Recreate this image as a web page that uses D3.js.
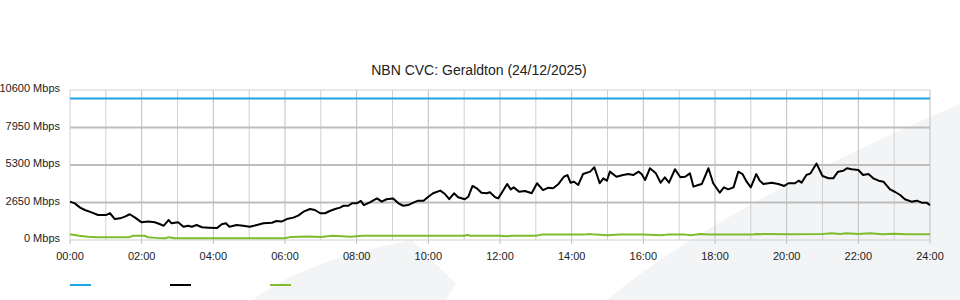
<!DOCTYPE html>
<html>
<head>
<meta charset="utf-8">
<script src="https://cdn.jsdelivr.net/npm/d3@7"></script>
<style>
  body { margin: 0; background: #fff; }
  text { font-family: "Liberation Sans", Arial, sans-serif; fill: #222; }
</style>
</head>
<body>
<div id="chart"></div>
<script>
// Data (time in minutes since 00:00, values in Mbps)
const yTicks = [0, 2650, 5300, 7950, 10600]
const xTickHours = [0, 2, 4, 6, 8, 10, 12, 14, 16, 18, 20, 22, 24]

const capacityTimes = [0, 1440]
const capacityValues = [10000, 10000]

const trafficTimes = [0, 8, 17, 25, 36, 47, 61, 67, 75, 84, 92, 100, 109, 120, 131, 142, 151, 157, 165, 170,
    181, 190, 198, 204, 212, 221, 232, 246, 254, 261, 267, 279, 290, 301, 313, 324, 338, 346, 354, 363,
    374, 382, 391, 402, 410, 419, 427, 435, 444, 452, 458, 466, 472, 480, 487, 492, 502, 514, 522, 530,
    541, 550, 558, 566, 575, 583, 592, 600, 608, 620, 628, 635, 643, 650, 661, 667, 674, 681, 689, 698,
    703, 712, 717, 724, 732, 738, 743, 752, 762, 773, 782, 792, 801, 809, 818, 827, 833, 838, 844, 851,
    859, 871, 878, 887, 893, 899, 904, 915, 926, 935, 943, 952, 957, 963, 971, 981, 989, 996, 1003, 1013,
    1022, 1030, 1038, 1044, 1052, 1058, 1069, 1077, 1088, 1095, 1102, 1111, 1119, 1126, 1133, 1140, 1149, 1155, 1161, 1175,
    1186, 1196, 1203, 1214, 1220, 1225, 1233, 1240, 1250, 1260, 1270, 1278, 1286, 1295, 1301, 1309, 1320, 1328, 1337, 1345,
    1354, 1362, 1373, 1381, 1390, 1398, 1409, 1418, 1426, 1434, 1440]
const trafficValues = [2710, 2590, 2290, 2120, 1950, 1770, 1770, 1890, 1480, 1530, 1650, 1820, 1580, 1250, 1300, 1250, 1110, 1010, 1410, 1180,
    1250, 940, 1010, 940, 1060, 900, 870, 840, 1110, 1180, 940, 1060, 1010, 940, 1060, 1180, 1220, 1340, 1300, 1480,
    1580, 1720, 2000, 2190, 2120, 1890, 1890, 2050, 2190, 2290, 2420, 2420, 2590, 2590, 2760, 2470, 2660, 2940, 2710, 2880,
    2940, 2590, 2420, 2470, 2640, 2780, 2780, 3060, 3300, 3490, 3250, 2880, 3300, 3020, 2880, 3060, 3820, 3650, 3340, 3300,
    3370, 3020, 2940, 3410, 3960, 3580, 3720, 3410, 3460, 3300, 4010, 3530, 3700, 3650, 3960, 4470, 4590, 4050, 4120, 3890,
    4660, 4830, 5140, 4010, 4360, 4190, 4830, 4470, 4590, 4660, 4590, 4830, 4660, 4240, 5070, 4710, 4050, 4430, 4050, 5000,
    4430, 4470, 4710, 3770, 3890, 3960, 5070, 4010, 3340, 3720, 3580, 3720, 4830, 4660, 4120, 3720, 4660, 4190, 3960, 4050,
    3960, 3820, 4010, 4010, 4190, 4050, 4590, 4710, 5400, 4520, 4360, 4360, 4830, 4900, 5070, 5000, 4950, 4590, 4660, 4360,
    4190, 4120, 3580, 3410, 3180, 2880, 2710, 2780, 2640, 2640, 2470]

const uploadTimes = [0, 15, 30, 45, 100, 105, 125, 130, 145, 160, 165, 175, 360, 370, 400, 420, 440, 470, 490, 540,
    660, 665, 670, 720, 730, 740, 780, 790, 860, 870, 880, 900, 920, 960, 980, 990, 1000, 1030, 1040, 1055,
    1070, 1140, 1150, 1200, 1260, 1275, 1290, 1300, 1320, 1340, 1360, 1380, 1400, 1440]
const uploadValues = [400, 300, 230, 200, 200, 300, 300, 200, 150, 120, 200, 120, 120, 220, 250, 220, 300, 230, 300, 300,
    300, 350, 300, 300, 260, 300, 300, 380, 380, 420, 380, 330, 380, 380, 350, 330, 380, 380, 330, 420,
    380, 380, 420, 400, 420, 480, 420, 480, 430, 480, 400, 440, 400, 400]

const seriesColors = ["#1ea6e2", "#000000", "#7dbd2d"]

// SVG setup
const width = 960
const height = 300
const margin = { top: 90, right: 30, bottom: 60, left: 70 }

const svg = d3.select("#chart").append("svg")
    .attr("width", width)
    .attr("height", height)

const x = d3.scaleLinear().domain([0, 1440]).range([margin.left, width - margin.right])
const y = d3.scaleLinear().domain([0, 10600]).range([height - margin.bottom, margin.top])

// Background watermark shapes
const bgGroup = svg.append("g").attr("fill", "#f3f4f6")
bgGroup.append("path").attr("d", "M253,300 Q300,262 412,240 L456,284 L446,300 Z")
bgGroup.append("path").attr("d", "M607,300 C660,255 760,190 960,104 L960,300 Z")

// Grid
const gridGroup = svg.append("g")
gridGroup.selectAll("line.vgrid")
    .data(d3.range(1, 25))
    .join("line")
    .attr("class", "vgrid")
    .attr("x1", d => x(d * 60)).attr("x2", d => x(d * 60))
    .attr("y1", y(10600)).attr("y2", y(0))
    .attr("stroke", d => d % 2 === 0 ? "#bfbfbf" : "#d0d0d0")
    .attr("stroke-width", 1)

gridGroup.selectAll("line.hgrid")
    .data(yTicks)
    .join("line")
    .attr("class", "hgrid")
    .attr("x1", x(0)).attr("x2", x(1440))
    .attr("y1", d => y(d)).attr("y2", d => y(d))
    .attr("stroke", d => (d === 0 || d === 10600) ? "#d0d0d0" : "#bdbdbd")
    .attr("stroke-width", d => (d === 0 || d === 10600) ? 1 : 2)

gridGroup.append("line")
    .attr("x1", x(0)).attr("x2", x(0))
    .attr("y1", y(10600)).attr("y2", y(0))
    .attr("stroke", "#d0d0d0")

// Axes labels
const yAxisGroup = svg.append("g")
yAxisGroup.selectAll("text")
    .data(yTicks)
    .join("text")
    .attr("x", 60)
    .attr("y", d => y(d) + 2)
    .attr("text-anchor", "end")
    .style("font-size", "11px")
    .text(d => d + " Mbps")

const xAxisGroup = svg.append("g")
xAxisGroup.selectAll("line")
    .data(xTickHours)
    .join("line")
    .attr("x1", d => x(d * 60)).attr("x2", d => x(d * 60))
    .attr("y1", y(0)).attr("y2", y(0) + 4)
    .attr("stroke", "#bfbfbf")
xAxisGroup.selectAll("text")
    .data(xTickHours)
    .join("text")
    .attr("x", d => x(d * 60))
    .attr("y", 260)
    .attr("text-anchor", "middle")
    .style("font-size", "11px")
    .text(d => (d < 10 ? "0" + d : d) + ":00")

// Title
svg.append("text")
    .attr("x", 479)
    .attr("y", 75)
    .attr("text-anchor", "middle")
    .style("font-size", "14px")
    .text("NBN CVC: Geraldton (24/12/2025)")

// Series lines
const line = d3.line()
    .x(d => x(d[0]))
    .y(d => y(d[1]))

const series = [
    d3.zip(capacityTimes, capacityValues),
    d3.zip(uploadTimes, uploadValues),
    d3.zip(trafficTimes, trafficValues)
]
const seriesColorIdx = [0, 2, 1]

svg.append("g").selectAll("path")
    .data(series)
    .join("path")
    .attr("d", line)
    .attr("fill", "none")
    .attr("stroke", (d, i) => seriesColors[seriesColorIdx[i]])
    .attr("stroke-width", 2)
    .attr("stroke-linejoin", "round")

// Legend (swatches only)
svg.append("g").selectAll("line")
    .data(seriesColors)
    .join("line")
    .attr("x1", (d, i) => 70 + i * 100)
    .attr("x2", (d, i) => 91 + i * 100)
    .attr("y1", 285).attr("y2", 285)
    .attr("stroke", d => d)
    .attr("stroke-width", 2)
</script>
</body>
</html>
